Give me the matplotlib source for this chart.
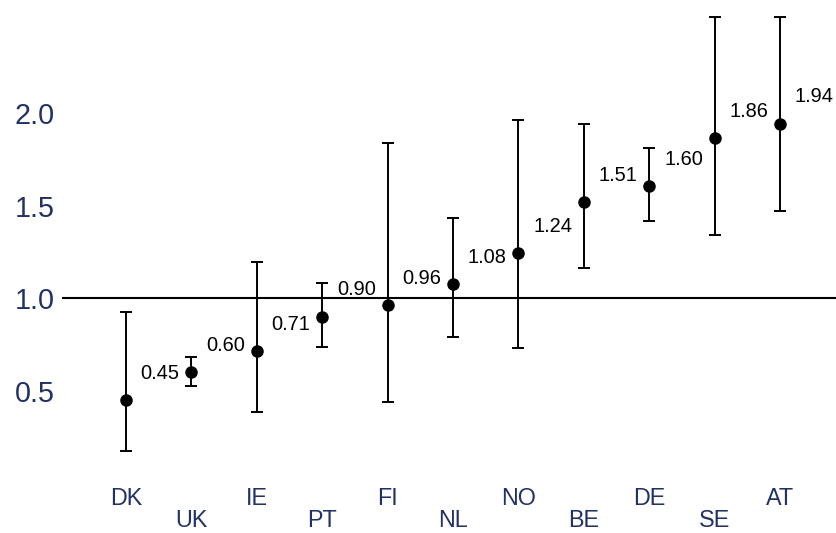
import matplotlib
matplotlib.use("Agg")
import matplotlib.pyplot as plt
import numpy as np

plt.rcParams['font.family'] = ['Liberation Sans', 'DejaVu Sans']

countries = ["DK", "UK", "IE", "PT", "FI", "NL", "NO", "BE", "DE", "SE", "AT"]
values = [0.449, 0.601, 0.713, 0.900, 0.964, 1.078, 1.243, 1.519, 1.607, 1.865, 1.944]
lower = [0.175, 0.525, 0.386, 0.738, 0.437, 0.788, 0.732, 1.165, 1.419, 1.342, 1.472]
upper = [0.927, 0.683, 1.198, 1.081, 1.838, 1.434, 1.966, 1.943, 1.814, 2.523, 2.523]
value_labels = ["0.45", "0.60", "0.71", "0.90", "0.96", "1.08", "1.24", "1.51", "1.60", "1.86", "1.94"]
yticks = [0.5, 1.0, 1.5, 2.0]
ytick_labels = ["0.5", "1.0", "1.5", "2.0"]

navy = '#233264'

W, H = 836, 533
fig = plt.figure(figsize=(W / 100, H / 100), dpi=100)
left_px = 62
ax = fig.add_axes([left_px / W, 0, 1 - left_px / W, 1])

px_per_x = 65.4
x0_px = 126
xlim_left = (left_px - x0_px) / px_per_x
xlim_right = (W - x0_px) / px_per_x
px_per_y = 184.8
y1_px = 298.2
ylim_top = 1 + y1_px / px_per_y
ylim_bot = 1 - (H - y1_px) / px_per_y
ax.set_xlim(xlim_left, xlim_right)
ax.set_ylim(ylim_bot, ylim_top)

x = np.arange(len(countries))
vals = np.array(values)
err = np.vstack([vals - np.array(lower), np.array(upper) - vals])

ax.axhline(1.0, color='black', lw=1.5, zorder=1)
ax.errorbar(x, vals, yerr=err, fmt='o', color='black', ms=8, elinewidth=1.4,
            capsize=4, capthick=1.4, zorder=3)

for i, lab in enumerate(value_labels):
    ax.text(x[i] + 0.821, vals[i] + 0.115, lab, ha='right', va='baseline',
            fontsize=14.4, color='black')

for i, c in enumerate(countries):
    yy = -0.119 if i % 2 == 0 else -0.238
    ax.text(x[i], yy, c, ha='center', va='baseline', fontsize=16.8, color=navy)

ax.set_yticks(yticks)
ax.set_yticklabels(ytick_labels, fontsize=20.7, color=navy)
ax.tick_params(axis='y', length=0, pad=5)
ax.set_xticks([])
for s in ax.spines.values():
    s.set_visible(False)
ax.patch.set_visible(False)

fig.savefig("out.png", dpi=100)
